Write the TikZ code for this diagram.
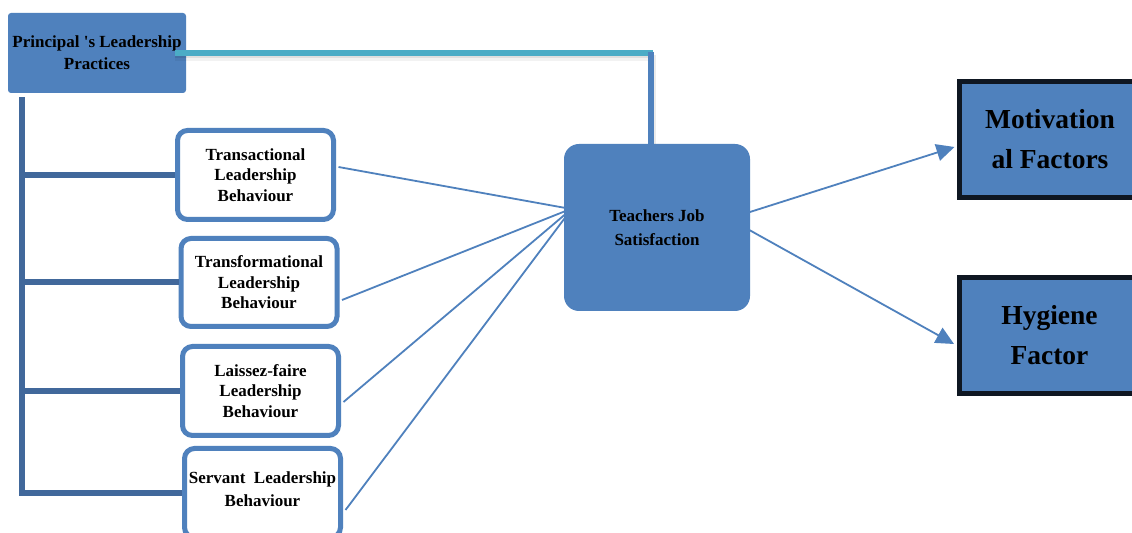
\documentclass[tikz,border=0pt]{standalone}
\usepackage{fontspec}
\setmainfont{Liberation Serif}
\usetikzlibrary{arrows.meta}
\definecolor{fillblue}{HTML}{4F81BD}
\definecolor{barblue}{HTML}{41689B}
\definecolor{tealc}{HTML}{4BACC6}
\definecolor{darkb}{HTML}{0F1722}
\tikzset{
  whitebox/.style={draw=fillblue, line width=2.5pt, fill=white, rounded corners=5pt,
    minimum width=78pt, minimum height=44.5pt, text width=78pt, inner sep=0pt, align=center,
    font=\bfseries\fontsize{8.5}{10.25}\selectfont},
  txt/.style={inner sep=0pt, align=center, font=\bfseries\fontsize{8.5}{11.5}\selectfont},
  bluebox/.style={fill=fillblue, inner sep=0pt, align=center},
  bigbox/.style={fill=fillblue, draw=darkb, line width=2.5pt, minimum width=90.5pt,
    minimum height=58pt, inner sep=0pt, align=center,
    font=\bfseries\fontsize{13.75}{20}\selectfont},
  bar/.style={draw=barblue, line width=3pt},
  thin/.style={draw=fillblue, line width=0.9pt},
  arr/.style={draw=fillblue, line width=0.9pt, -{Triangle[length=9pt,width=8.5pt]}},
}
\begin{document}
\begin{tikzpicture}[x=0.5pt, y=-0.5pt]
\useasboundingbox (0,0) rectangle (1132,533);
\clip (0,0) rectangle (1132,533);
\fill[white] (0,0) rectangle (1132,533);

% nodes
\node[bluebox, rounded corners=1.5pt, minimum width=89pt, minimum height=40pt,
  font=\bfseries\fontsize{8.5}{11}\selectfont] (P) at (97,53) {Principal \textquotesingle s Leadership\\Practices};
\node[whitebox] (b1) at (255.5,175) {Transactional\\Leadership\\Behaviour};
\node[whitebox, minimum height=44pt] (b2) at (259,282.5) {Transformational\\Leadership\\Behaviour};
\node[whitebox] (b3) at (260.5,391) {Laissez-faire\\Leadership\\Behaviour};
\node[whitebox] (b4) at (262.5,493) {};
\node[txt] (b4t) at ([yshift=1.75pt]b4.center) {Servant\ \ Leadership\\Behaviour};
\node[bluebox, rounded corners=7.5pt, minimum width=93pt, minimum height=83.5pt,
  font=\bfseries\fontsize{8.5}{12}\selectfont] (T) at (657,227.5) {Teachers Job\\Satisfaction};
\node[bigbox] (M) at (1050,139.5) {Motivation\\al Factors};
\node[bigbox] (H) at (1049.5,335.5) {Hygiene\\Factor};

% trunk and branches
\coordinate (tr) at ([xshift=7pt,yshift=-2pt]P.south west);
\draw[bar] (tr) -- (tr |- b4.west) -- (b4.west);
\draw[bar] (tr |- b1.west) -- (b1.west);
\draw[bar] (tr |- b2.west) -- (b2.west);
\draw[bar] (tr |- b3.west) -- (b3.west);

% top connector with soft shadow
\coordinate (cn) at (651,53);
\draw[black, opacity=0.05, line width=5pt] ([xshift=-5.5pt,yshift=-1.5pt]P.east) -- ([xshift=1pt,yshift=-1.5pt]cn);
\draw[black, opacity=0.08, line width=3pt] ([xshift=-5.5pt,yshift=-1.2pt]P.east) -- ([xshift=1pt,yshift=-1.2pt]cn);
\draw[black, opacity=0.08, line width=3pt] ([xshift=1.2pt,yshift=-1pt]cn) -- ([xshift=1.2pt]cn |- T.north);
\draw[tealc, line width=2.75pt] ([xshift=-5.5pt]P.east) -- ([xshift=1.2pt]cn);
\draw[fillblue, line width=2.75pt] ([yshift=0.5pt]cn) -- (cn |- T.north) -- ++(0,8);

% thin connectors
\draw[thin] ([xshift=1.25pt,yshift=4pt]b1.east) -- ([xshift=1pt,yshift=9.75pt]T.west);
\draw[thin] ([xshift=1.25pt,yshift=-8.75pt]b2.east) -- ([xshift=1pt,yshift=8.25pt]T.west);
\draw[thin] ([xshift=1.25pt,yshift=-5.5pt]b3.east) -- ([xshift=1pt,yshift=6.75pt]T.west);
\draw[thin] ([xshift=1.25pt,yshift=-8.5pt]b4.east) -- ([xshift=1pt,yshift=5.25pt]T.west);

% arrows
\draw[arr] ([xshift=-1pt,yshift=7.5pt]T.east) -- ([xshift=-1.25pt,yshift=-3.75pt]M.west);
\draw[arr] ([xshift=-1pt,yshift=-1pt]T.east) -- ([xshift=-1.25pt,yshift=-4.25pt]H.west);
\end{tikzpicture}
\end{document}
